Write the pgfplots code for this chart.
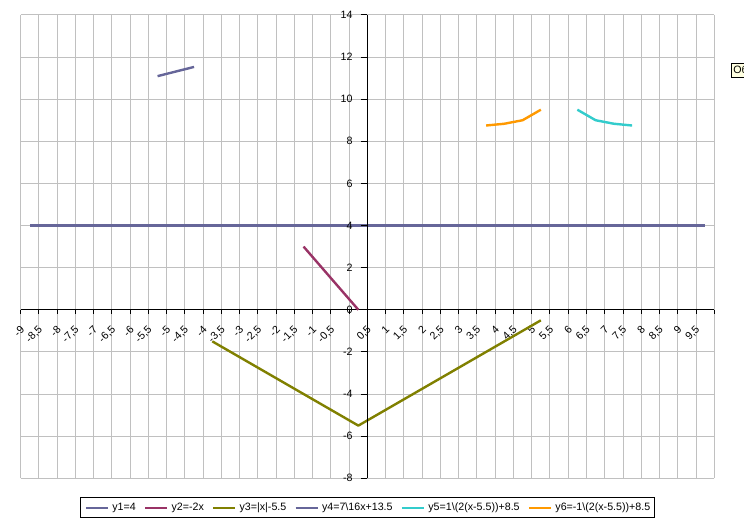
\documentclass[border=0pt]{standalone}
\usepackage{pgfplots}
\pgfplotsset{compat=1.18}
\usepackage{fontspec}
\setmainfont{Liberation Sans}
\definecolor{cA}{HTML}{666699}
\definecolor{cB}{HTML}{993366}
\definecolor{cC}{HTML}{808000}
\definecolor{cD}{HTML}{666699}
\definecolor{cE}{HTML}{33CCCC}
\definecolor{cF}{HTML}{FF9900}
\definecolor{gridc}{HTML}{C0C0C0}
\definecolor{tipc}{HTML}{FFFFE1}
\begin{document}
\begin{tikzpicture}[font=\fontsize{8}{9.6}\selectfont]
\useasboundingbox (0,0) rectangle (558pt,394.5pt);
\begin{axis}[
  at={(15.5pt,35.8pt)}, anchor=south west,
  scale only axis, width=520.2pt, height=347.5pt,
  xmin=-9.25, xmax=9.75, ymin=-8, ymax=14,
  axis lines=middle,
  axis line style={-},
  x axis line style={black, line width=0.75pt},
  y axis line style={draw=none},
  xtick={-9,-8.5,...,9.5},
  xticklabels={-9,{-8,5},-8,{-7,5},-7,{-6,5},-6,{-5,5},-5,{-4,5},-4,{-3,5},-3,{-2,5},-2,{-1,5},-1,{-0,5},0,{0,5},1,{1,5},2,{2,5},3,{3,5},4,{4,5},5,{5,5},6,{6,5},7,{7,5},8,{8,5},9,{9,5}},
  minor xtick={-9.25,-8.75,...,9.75},
  xminorgrids=true, xmajorgrids=false,
  ytick={-8,-6,...,14}, yticklabels={}, ymajorgrids=true,
  grid style={gridc, line width=0.75pt},
  minor grid style={gridc, line width=0.75pt},
  tick align=outside,
  major tick length=0pt, minor tick length=3pt,
  minor x tick style={black, line width=0.75pt},
  ytick style={draw=none},
  xticklabel style={inner sep=0pt, xshift=-5.3pt, yshift=-13.6pt, rotate=45, anchor=east},
  every axis plot/.append style={line width=1.8pt, line join=round, mark=none},
  legend columns=6,
  legend style={at={(0.5,-0.064)}, anchor=center, draw=black, line width=0.75pt,
    inner xsep=3pt, inner ysep=3.8pt,
    nodes={inner sep=0pt, text height=6pt, text depth=1.5pt},
    /tikz/every odd column/.append style={column sep=2.5pt},
    /tikz/every even column/.append style={column sep=6pt}},
  legend image code/.code={\draw[#1] (0pt,0pt) -- (16.5pt,0pt);},
]
\addplot[cA] coordinates {(-9,4) (-8.5,4) (-8,4) (-7.5,4) (-7,4) (-6.5,4) (-6,4) (-5.5,4) (-5,4) (-4.5,4) (-4,4) (-3.5,4) (-3,4) (-2.5,4) (-2,4) (-1.5,4) (-1,4) (-0.5,4) (0,4) (0.5,4) (1,4) (1.5,4) (2,4) (2.5,4) (3,4) (3.5,4) (4,4) (4.5,4) (5,4) (5.5,4) (6,4) (6.5,4) (7,4) (7.5,4) (8,4) (8.5,4) (9,4) (9.5,4)};
\addlegendentry{y1=4}
\addplot[cB] coordinates {(-1.5,3) (-1,2) (-0.5,1) (0,0)};
\addlegendentry{y2=-2x}
\addplot[cC] coordinates {(-4,-1.5) (-3.5,-2) (-3,-2.5) (-2.5,-3) (-2,-3.5) (-1.5,-4) (-1,-4.5) (-0.5,-5) (0,-5.5) (0.5,-5) (1,-4.5) (1.5,-4) (2,-3.5) (2.5,-3) (3,-2.5) (3.5,-2) (4,-1.5) (4.5,-1) (5,-0.5)};
\addlegendentry{y3=|x|-5.5}
\addplot[cD] coordinates {(-5.5,11.0938) (-5,11.3125) (-4.5,11.5313)};
\addlegendentry{y4=7\textbackslash16x+13.5}
\addplot[cE] coordinates {(6,9.5) (6.5,9.0) (7,8.8333) (7.5,8.75)};
\addlegendentry{y5=1\textbackslash(2(x-5.5))+8.5}
\addplot[cF] coordinates {(3.5,8.75) (4,8.8333) (4.5,9.0) (5,9.5)};
\addlegendentry{y6=-1\textbackslash(2(x-5.5))+8.5}
\end{axis}
\begin{axis}[
  at={(15.5pt,35.8pt)}, anchor=south west,
  scale only axis, width=520.2pt, height=347.5pt,
  xmin=-9.5, xmax=9.5, ymin=-8, ymax=14,
  axis y line=middle, axis x line=none,
  axis line style={-},
  y axis line style={black, line width=0.75pt},
  xtick=\empty,
  ytick={-8,-6,...,14},
  yticklabels={-8,-6,-4,-2,0,2,4,6,8,10,12,14},
  tick align=outside, major tick length=4.5pt,
  ytick style={black, line width=0.75pt},
  yticklabel style={inner sep=0pt, anchor=east, xshift=-6.5pt},
]
\end{axis}
\node[anchor=north west, fill=tipc, draw=black, line width=0.5pt, inner sep=1.5pt, text height=6pt, text depth=1.5pt] at (548.3pt,347.3pt) {Область построения};
\end{tikzpicture}
\end{document}
